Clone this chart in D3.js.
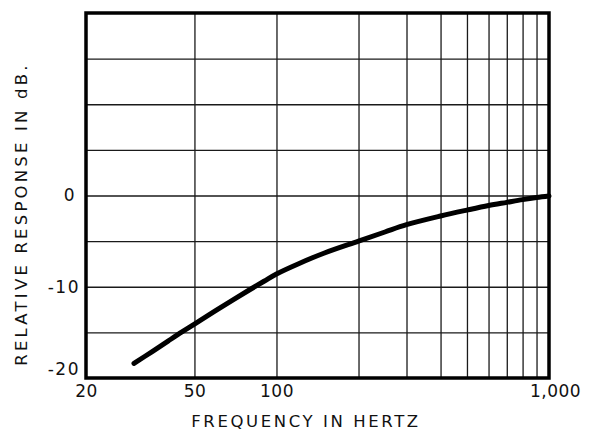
<!DOCTYPE html>
<html>
<head>
<meta charset="utf-8">
<script src="https://cdn.jsdelivr.net/npm/d3@7"></script>
<style>
  html, body { margin: 0; padding: 0; background: #fff; }
  svg { display: block; }
  text { font-family: "DejaVu Sans", sans-serif; fill: #111; }
</style>
</head>
<body>
<svg id="chart" width="590" height="432"></svg>
<script>
// ---- data ----
const freqs = [30, 35, 40, 45, 50, 60, 70, 80, 90, 100, 120, 150, 200, 250, 300, 400, 500, 600, 700, 800, 900, 1000];
const responseDb = [-18.4, -17.1, -15.95, -14.95, -14.1, -12.6, -11.35, -10.3, -9.4, -8.6, -7.5, -6.3, -5.0, -4.0, -3.2, -2.25, -1.6, -1.1, -0.75, -0.45, -0.22, -0.05];
const xTickLabels = [20, 50, 100, 1000];
const xGridValues = [50, 100, 200, 300, 400, 500, 600, 700, 800, 900];
const yTickLabels = [0, -10, -20];
const yGridValues = [-15, -10, -5, 0, 5, 10, 15];
const xTitle = "FREQUENCY IN HERTZ";
const yTitle = "RELATIVE RESPONSE IN dB.";

// ---- layout ----
const W = 590, H = 432;
const margin = { left: 86, top: 13, right: 41, bottom: 54 };
const iw = W - margin.left - margin.right;
const ih = H - margin.top - margin.bottom;

const svg = d3.select("#chart");
const g = svg.append("g").attr("transform", `translate(${margin.left},${margin.top})`);

const x = d3.scaleLog().domain([20, 1000]).range([0, iw]);
const y = d3.scaleLinear().domain([-20, 20]).range([ih, 0]);

// vertical grid
g.append("g")
  .attr("transform", `translate(0,${ih})`)
  .call(d3.axisBottom(x).tickValues(xGridValues).tickSize(-ih).tickFormat(""))
  .call(a => a.select(".domain").remove())
  .call(a => a.selectAll("line").attr("stroke", "#1a1a1a").attr("stroke-width", 1.3));

// horizontal grid
g.append("g")
  .call(d3.axisLeft(y).tickValues(yGridValues).tickSize(-iw).tickFormat(""))
  .call(a => a.select(".domain").remove())
  .call(a => a.selectAll("line").attr("stroke", "#1a1a1a").attr("stroke-width", 1.3));

// frame
g.append("rect")
  .attr("x", 0).attr("y", 0).attr("width", iw).attr("height", ih)
  .attr("fill", "none").attr("stroke", "#000").attr("stroke-width", 3.5);

// x tick labels
const xa = g.append("g")
  .attr("transform", `translate(0,${ih})`)
  .call(d3.axisBottom(x).tickValues(xTickLabels).tickSize(0).tickPadding(7).tickFormat(d3.format(",")));
xa.select(".domain").remove();
xa.selectAll("text")
  .attr("font-size", 17)
  .attr("font-family", "DejaVu Sans, sans-serif")
  .attr("fill", "#111")
  .attr("letter-spacing", 0.5)
  .attr("dx", d => d === 1000 ? 6 : 0);

// y tick labels
const ya = g.append("g")
  .call(d3.axisLeft(y).tickValues(yTickLabels).tickSize(0).tickPadding(6).tickFormat(d => d === 0 ? "0" : "-" + Math.abs(d)));
ya.select(".domain").remove();
ya.selectAll("text")
  .attr("font-size", 17)
  .attr("font-family", "DejaVu Sans, sans-serif")
  .attr("fill", "#111")
  .attr("dy", d => d === -20 ? "-0.2em" : "0.32em")
  .attr("dx", d => d === 0 ? -4 : 0)
  .attr("letter-spacing", 1.5);

// curve
const line = d3.line()
  .x((d, i) => x(freqs[i]))
  .y(d => y(d))
  .curve(d3.curveCatmullRom.alpha(0.5));

g.append("path")
  .datum(responseDb)
  .attr("d", line)
  .attr("fill", "none")
  .attr("stroke", "#000")
  .attr("stroke-width", 5)
  .attr("stroke-linecap", "round")
  .attr("stroke-linejoin", "round");

// axis titles
svg.append("text")
  .attr("x", 306).attr("y", 427)
  .attr("text-anchor", "middle")
  .attr("font-size", 16.5)
  .attr("letter-spacing", 2.6)
  .text(xTitle);

svg.append("text")
  .attr("transform", `translate(27,214) rotate(-90)`)
  .attr("text-anchor", "middle")
  .attr("font-size", 16.5)
  .attr("letter-spacing", 3.2)
  .text(yTitle);
</script>
</body>
</html>
